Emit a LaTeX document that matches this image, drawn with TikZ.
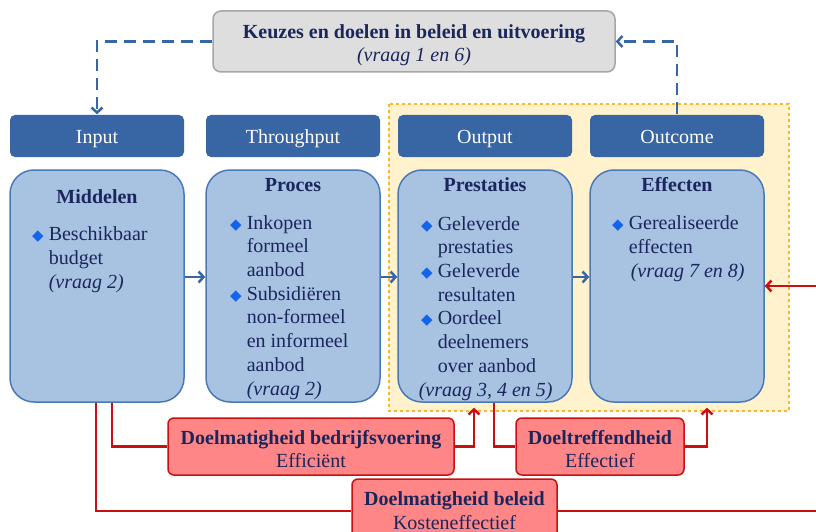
\documentclass[tikz,border=0pt]{standalone}
\usepackage{fontspec}
\setmainfont{Liberation Serif}
\newfontfamily\bulfont{DejaVu Sans}
\usetikzlibrary{arrows.meta}
\definecolor{textnavy}{RGB}{26,38,92}
\definecolor{headblue}{RGB}{56,101,163}
\definecolor{boxblue}{RGB}{168,194,226}
\definecolor{boxedge}{RGB}{74,122,182}
\definecolor{bulletblue}{RGB}{20,100,235}
\definecolor{paleyellow}{RGB}{255,242,204}
\definecolor{goldedge}{RGB}{247,183,49}
\definecolor{keyred}{RGB}{200,16,16}
\definecolor{rosefill}{RGB}{255,134,134}
\definecolor{greyfill}{RGB}{222,222,222}
\definecolor{greyedge}{RGB}{166,166,166}
\newcommand\bul{\llap{\textcolor{bulletblue}{\bulfont\fontsize{15}{15}\selectfont ◆}\hspace{5pt}}}

\begin{document}
\begin{tikzpicture}[x=1pt, y=-1pt, line width=1.5pt,
  >={Straight Barb[length=5pt, width=11pt]},
  every node/.style={font=\fontsize{20}{23.7}\selectfont, text=textnavy},
  head/.style={fill=headblue, rounded corners=5pt, minimum width=174pt,
    minimum height=42pt, text=white, text height=14pt, text depth=0pt},
  stage/.style={fill=boxblue, draw=boxedge, rounded corners=24pt,
    minimum width=174pt, minimum height=232pt},
  boxtitle/.style={font=\fontsize{20}{23.7}\selectfont\bfseries, anchor=base},
  body/.style={align=left, inner sep=0pt, anchor=base west},
  keybox/.style={fill=rosefill, draw=keyred, rounded corners=6pt, align=center},
  flow/.style={->, draw=headblue, line width=2.5pt},
  redflow/.style={draw=keyred, line width=2.5pt},
  backflow/.style={->, draw=headblue, line width=2.5pt, dash pattern=on 12pt off 7pt}]
  \useasboundingbox (0,0) rectangle (816,532);

  \def\phase#1#2#3#4#5#6{
    \node[head] (#1) at (#2,136) {#3};
    \node[stage] (#4) at (#2,286) {};
    \node[boxtitle] (#4t) at (#2,#5) {#6};
  }

  % yellow output/outcome area
  \draw[fill=paleyellow, draw=goldedge, dashed, line width=1.3pt]
  (389,104) rectangle (789,411);

  \node[fill=greyfill, draw=greyedge, rounded corners=8pt, align=center,
  minimum width=402pt, minimum height=61pt] (keuzes) at (414,41.5)
  {\rule{0pt}{21pt}\textbf{Keuzes en doelen in beleid en uitvoering}\\ \textit{(vraag 1 en 6)}};

  \phase{inp}{97}{Input}{mid}{203}{Middelen}
  \phase{thr}{293}{Throughput}{pro}{191}{Proces}
  \phase{outp}{485}{Output}{pres}{191}{Prestaties}
  \phase{outc}{677}{Outcome}{eff}{191}{Effecten}

  % bodies: anchored at the baseline of their last line
  \node[body] (midtxt) at (48,288)
  {\bul Beschikbaar\\ budget\\ \textit{(vraag 2)}};
  \node[body] (protxt) at (246,395)
  {\bul Inkopen\\ formeel\\ aanbod\\ \bul Subsidiëren\\ non-formeel\\
    en informeel\\ aanbod\\ \textit{(vraag 2)}};
  \node[body] (prestxt) at (437,396)
  {\bul Geleverde\\ prestaties\\ \bul Geleverde\\ resultaten\\ \bul Oordeel\\
    deelnemers\\ over aanbod\\ \hspace*{-19pt}\textit{(vraag 3, 4 en 5)}};
  \node[body] (efftxt) at (628,277)
  {\bul Gerealiseerde\\ effecten\\ \hspace*{2pt}\textit{(vraag 7 en 8)}};

  \node[keybox, minimum width=286pt, minimum height=57pt] (bedr) at (311,446.5)
  {\rule{0pt}{19pt}\textbf{Doelmatigheid bedrijfsvoering}\\ Efficiënt};
  \node[keybox, minimum width=168pt, minimum height=57pt] (doel) at (600,446.5)
  {\rule{0pt}{19pt}\textbf{Doeltreffendheid}\\ Effectief};
  \node[keybox, minimum width=205pt, minimum height=64pt] (bel) at (454.5,511)
  {\textbf{Doelmatigheid beleid}\\ Kosteneffectief};
  \coordinate (offright) at (824,400);

  \draw[backflow] (keuzes.west) -| (inp.north);
  \draw[backflow] (outc.north) |- (keuzes.east);

  \draw[flow] ([yshift=9pt]mid.east) -- ([yshift=9pt]pro.west);
  \draw[flow] ([yshift=9pt]pro.east) -- ([yshift=9pt]pres.west);
  \draw[flow] ([yshift=9pt]pres.east) -- ([yshift=9pt]eff.west);

  \draw[redflow] ([xshift=15pt]mid.south) |- (bedr.west);
  \draw[redflow, ->, shorten >=5pt] (bedr.east) -| ([xshift=-11pt]pres.south);
  \draw[redflow] ([xshift=9pt]pres.south) |- (doel.west);
  \draw[redflow, ->, shorten >=5pt] (doel.east) -| ([xshift=30pt]eff.south);
  \draw[redflow] ([xshift=-1pt]mid.south) |- (bel.west);
  \draw[redflow, ->] (bel.east) -| (offright) |- (eff.east);
\end{tikzpicture}
\end{document}
